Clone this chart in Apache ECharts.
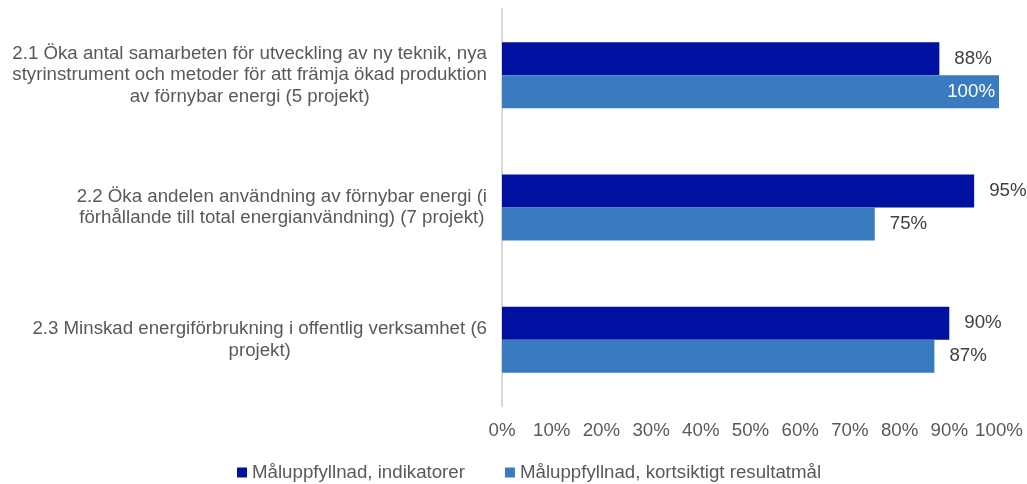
<!DOCTYPE html>
<html>
<head>
<meta charset="utf-8">
<script src="https://cdn.jsdelivr.net/npm/echarts@6/dist/echarts.min.js"></script>
<style>
  html, body { margin: 0; padding: 0; background: #fff; }
  #chart { width: 1027px; height: 484px; }
</style>
</head>
<body>
<div id="chart"></div>
<script>
// ===== Data =====
const categories = [
  '2.1 Öka antal samarbeten för utveckling av ny teknik, nya\nstyrinstrument och metoder för att främja ökad produktion\nav förnybar energi (5 projekt)',
  '2.2 Öka andelen användning av förnybar energi (i\nförhållande till total energianvändning) (7 projekt)',
  '2.3 Minskad energiförbrukning i offentlig verksamhet (6\nprojekt)'
];
const seriesNames = ['Måluppfyllnad, indikatorer', 'Måluppfyllnad, kortsiktigt resultatmål'];
const indikatorer = [88, 95, 90];
const resultatmal = [100, 75, 87];

const FONT = '"Liberation Sans", Arial, sans-serif';
const TEXT = '#595959';
const SIZE = 18.7;

function initChart() {
  const myChart = echarts.init(document.getElementById('chart'));

  const barLabel = {
    show: true,
    position: 'right',
    distance: 15,
    formatter: '{c}%',
    color: '#404040',
    fontSize: SIZE,
    fontFamily: FONT
  };

  const option = {
    animation: false,
    textStyle: { fontFamily: FONT },
    grid: { left: 502, right: 28, top: 9, bottom: 78 },
    legend: {
      left: 232,
      top: 458,
      icon: 'rect',
      itemWidth: 10,
      itemHeight: 10,
      itemGap: 40,
      textStyle: { color: TEXT, fontSize: SIZE, fontFamily: FONT },
      data: seriesNames
    },
    xAxis: {
      type: 'value',
      min: 0,
      max: 100,
      interval: 10,
      axisLine: { show: false },
      axisTick: { show: false },
      splitLine: { show: false },
      axisLabel: {
        formatter: '{value}%',
        color: TEXT,
        fontSize: SIZE,
        fontFamily: FONT,
        margin: 15
      }
    },
    yAxis: {
      type: 'category',
      inverse: true,
      data: categories,
      axisLine: { show: true, lineStyle: { color: '#d9d9d9', width: 2 } },
      axisTick: { show: false },
      axisLabel: {
        margin: 15,
        align: 'right',
        formatter: v => v.split('\n').map(l => '{c|' + l + '}').join('\n'),
        rich: {
          c: { align: 'center', color: TEXT, fontSize: SIZE, fontFamily: FONT, lineHeight: 21.5 }
        }
      }
    },
    series: [
      {
        name: seriesNames[0],
        type: 'bar',
        data: indikatorer,
        barWidth: 33,
        barGap: '0%',
        itemStyle: { color: '#0010A0' },
        label: barLabel
      },
      {
        name: seriesNames[1],
        type: 'bar',
        data: resultatmal.map(v => v === 100
          ? { value: v, label: { position: 'insideRight', distance: 4, color: '#ffffff' } }
          : v),
        barWidth: 33,
        itemStyle: { color: '#3A7BBF' },
        label: barLabel
      }
    ]
  };

  myChart.setOption(option);
}

initChart();
</script>
</body>
</html>
